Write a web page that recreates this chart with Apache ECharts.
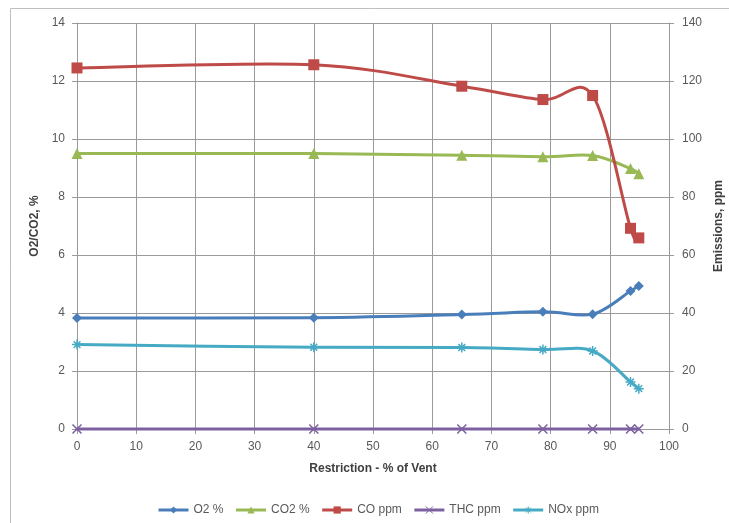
<!DOCTYPE html>
<html>
<head>
<meta charset="utf-8">
<script src="https://cdn.jsdelivr.net/npm/echarts@6/dist/echarts.min.js"></script>
<style>
  html, body { margin: 0; padding: 0; background: #fff; }
  #chart { width: 729px; height: 523px; }
</style>
</head>
<body>
<div id="chart"></div>
<script>
// Restriction (% of vent) at each test point
const restriction = [0, 40, 65, 78.7, 87.1, 93.5, 94.9];
// Flue gas concentrations, percent (left axis)
const o2Pct  = [3.83, 3.84, 3.95, 4.04, 3.96, 4.76, 4.93];
const co2Pct = [9.5, 9.5, 9.44, 9.39, 9.43, 8.98, 8.8];
// Emissions, ppm (right axis)
const coPpm  = [124.5, 125.6, 118.2, 113.6, 115.0, 69.2, 65.9];
const thcPpm = [0, 0, 0, 0, 0, 0, 0];
const noxPpm = [29.1, 28.2, 28.1, 27.4, 26.9, 16.2, 13.9];

const seriesNames = ['O2 %', 'CO2 %', 'CO ppm', 'THC ppm', 'NOx ppm'];
const xTicks = { min: 0, max: 100, interval: 10 };
const leftTicks = { min: 0, max: 14, interval: 2 };
const rightTicks = { min: 0, max: 140, interval: 20 };

const pairs = vals => restriction.map((x, i) => [x, vals[i]]);

const FONT = '"Liberation Sans", Arial, sans-serif';
const gridColor = '#9a9a9a';
const labelColor = '#595959';

const crossPath = 'path://M0,0L10,10M10,0L0,10';
const starPath = 'path://M5,0L5,10M0,5L10,5M1.6,1.6L8.4,8.4M8.4,1.6L1.6,8.4';

// Smoothed connecting curve: cubic Bezier segments with Catmull-Rom style
// control points, computed in pixel space from the axis-mapped points.
function curveSeries(vals, color, yIndex) {
  return {
    type: 'custom',
    coordinateSystem: 'cartesian2d',
    yAxisIndex: yIndex,
    data: pairs(vals),
    encode: { x: 0, y: 1 },
    silent: true,
    z: 2,
    renderItem: function (params, api) {
      if (params.dataIndex !== 0) return null;
      const p = restriction.map((x, i) => api.coord([x, vals[i]]));
      const n = p.length;
      const children = [];
      for (let i = 0; i < n - 1; i++) {
        const p0 = p[Math.max(i - 1, 0)];
        const p1 = p[i];
        const p2 = p[i + 1];
        const p3 = p[Math.min(i + 2, n - 1)];
        children.push({
          type: 'bezierCurve',
          shape: {
            x1: p1[0], y1: p1[1],
            x2: p2[0], y2: p2[1],
            cpx1: p1[0] + (p2[0] - p0[0]) / 6,
            cpy1: p1[1] + (p2[1] - p0[1]) / 6,
            cpx2: p2[0] - (p3[0] - p1[0]) / 6,
            cpy2: p2[1] - (p3[1] - p1[1]) / 6
          },
          style: { stroke: color, lineWidth: 3, fill: null, lineCap: 'round' }
        });
      }
      return { type: 'group', children: children };
    }
  };
}

// Markers (and legend entries) for each measured series.
function markerSeries(name, data, color, symbol, size, yIndex, extra) {
  return Object.assign({
    name: name,
    type: 'line',
    yAxisIndex: yIndex,
    data: pairs(data),
    symbol: symbol,
    symbolSize: size,
    showAllSymbol: true,
    lineStyle: { color: color, width: 3, opacity: 0 },
    itemStyle: { color: color },
    emphasis: { disabled: true },
    z: 3
  }, extra || {});
}

const chart = echarts.init(document.getElementById('chart'), null, { renderer: 'canvas' });

chart.setOption({
  animation: false,
  backgroundColor: '#ffffff',
  textStyle: { fontFamily: FONT },
  graphic: [{
    type: 'rect',
    shape: { x: 10.5, y: 8.5, width: 740, height: 540 },
    style: { fill: 'none', stroke: '#bfbfbf', lineWidth: 1 },
    silent: true,
    z: -1
  }],
  grid: {
    left: 77, right: 60, top: 23, bottom: 94,
    containLabel: false,
    outerBoundsMode: 'none'
  },
  legend: {
    top: 499,
    left: 152,
    itemWidth: 30,
    itemHeight: 9,
    itemGap: 11,
    data: seriesNames,
    lineStyle: { opacity: 1, width: 3 },
    itemStyle: { borderWidth: 1 },
    textStyle: { color: labelColor, fontSize: 12, fontFamily: FONT }
  },
  xAxis: {
    type: 'value',
    min: xTicks.min, max: xTicks.max, interval: xTicks.interval,
    name: 'Restriction - % of Vent',
    nameLocation: 'middle',
    nameGap: 34,
    nameTextStyle: { color: '#404040', fontWeight: 'bold', fontSize: 12, fontFamily: FONT },
    axisLine: { onZero: false, lineStyle: { color: gridColor, width: 1 } },
    axisTick: { show: true, length: 5, lineStyle: { color: gridColor } },
    axisLabel: { color: labelColor, fontSize: 12, margin: 12 },
    splitLine: { show: true, lineStyle: { color: gridColor, width: 1 } }
  },
  yAxis: [{
    type: 'value',
    position: 'left',
    min: leftTicks.min, max: leftTicks.max, interval: leftTicks.interval,
    name: 'O2/CO2, %',
    nameLocation: 'middle',
    nameGap: 26,
    nameRotate: 90,
    nameTextStyle: { color: '#404040', fontWeight: 'bold', fontSize: 12, fontFamily: FONT },
    axisLine: { show: true, lineStyle: { color: gridColor, width: 1 } },
    axisTick: { show: true, length: 5, lineStyle: { color: gridColor } },
    axisLabel: { color: labelColor, fontSize: 12, margin: 12 },
    splitLine: { show: true, lineStyle: { color: gridColor, width: 1 } }
  }, {
    type: 'value',
    position: 'right',
    min: rightTicks.min, max: rightTicks.max, interval: rightTicks.interval,
    name: 'Emissions, ppm',
    nameLocation: 'middle',
    nameGap: 43,
    nameRotate: 90,
    nameTextStyle: { color: '#404040', fontWeight: 'bold', fontSize: 12, fontFamily: FONT },
    axisLine: { show: true, lineStyle: { color: gridColor, width: 1 } },
    axisTick: { show: true, length: 5, lineStyle: { color: gridColor } },
    axisLabel: { color: labelColor, fontSize: 12, margin: 13 },
    splitLine: { show: false }
  }],
  series: [
    curveSeries(o2Pct, '#4a7ebb', 0),
    curveSeries(co2Pct, '#98b954', 0),
    curveSeries(coPpm, '#be4b48', 1),
    curveSeries(thcPpm, '#7d60a0', 1),
    curveSeries(noxPpm, '#46aac5', 1),
    markerSeries(seriesNames[0], o2Pct, '#4a7ebb', 'diamond', 10, 0),
    markerSeries(seriesNames[1], co2Pct, '#98b954', 'triangle', 11, 0),
    markerSeries(seriesNames[2], coPpm, '#be4b48', 'rect', 11, 1),
    markerSeries(seriesNames[3], thcPpm, '#7d60a0', crossPath, 9, 1, {
      itemStyle: { color: '#7d60a0', borderColor: '#7d60a0', borderWidth: 1.5 }
    }),
    markerSeries(seriesNames[4], noxPpm, '#46aac5', starPath, 10, 1, {
      itemStyle: { color: '#46aac5', borderColor: '#46aac5', borderWidth: 1.5 }
    })
  ]
});
</script>
</body>
</html>
